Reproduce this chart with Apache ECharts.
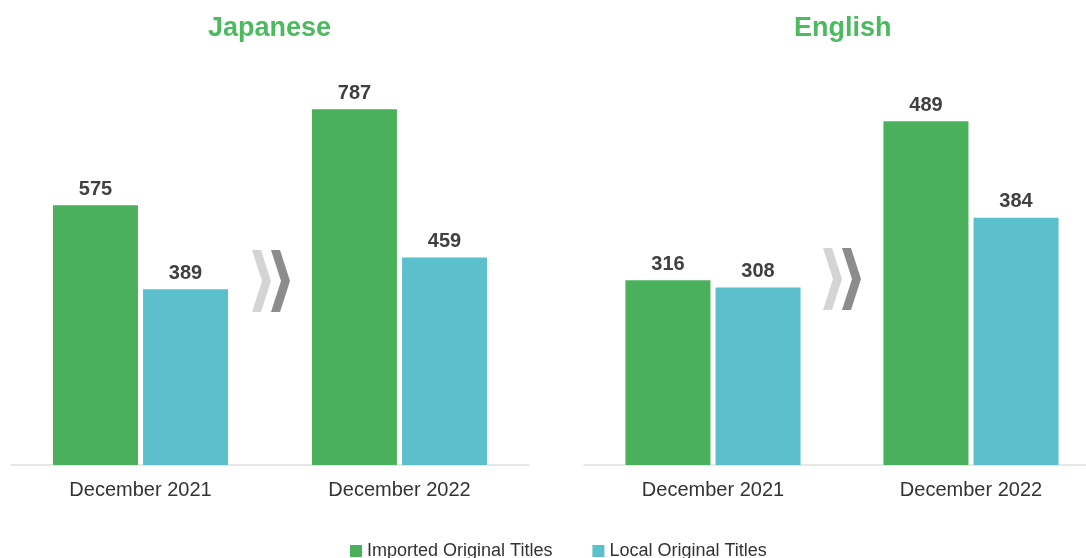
<!DOCTYPE html>
<html>
<head>
<meta charset="utf-8">
<script src="https://cdn.jsdelivr.net/npm/echarts@6/dist/echarts.min.js"></script>
<style>
  html, body { margin: 0; padding: 0; background: #ffffff; overflow: hidden; }
  /* the English panel runs slightly past the right edge of the page */
  #chart { width: 1100px; height: 558px; }
</style>
</head>
<body>
<div id="chart"></div>
<script>
// Title counts per language, two snapshot months
const categories = ['December 2021', 'December 2022'];
const panelTitles = ['Japanese', 'English'];
const seriesNames = ['Imported Original Titles', 'Local Original Titles'];
const japaneseImported = [575, 787];
const japaneseLocal = [389, 459];
const englishImported = [316, 489];
const englishLocal = [308, 384];

const GREEN = '#4ab05c';
const CYAN = '#5bbfcc';
const TITLE_GREEN = '#4cba5e';
const FONT = '"Liberation Sans", Arial, sans-serif';

const chart = echarts.init(document.getElementById('chart'), null, { renderer: 'canvas' });

function barSeries(name, data, idx, color) {
  return {
    name: name,
    type: 'bar',
    xAxisIndex: idx,
    yAxisIndex: idx,
    data: data,
    barWidth: 85,
    barGap: '6%',
    itemStyle: { color: color },
    label: {
      show: true,
      position: 'top',
      distance: 6,
      color: '#404040',
      fontFamily: FONT,
      fontWeight: 'bold',
      fontSize: 20
    }
  };
}

function catAxis(idx) {
  return {
    type: 'category',
    gridIndex: idx,
    data: categories,
    axisTick: { show: false },
    axisLine: { show: true, lineStyle: { color: '#e0e0e0', width: 1.5 } },
    axisLabel: { color: '#333333', fontFamily: FONT, fontSize: 20, margin: 15 }
  };
}

// Two-stroke chevron (light then dark) sitting between the month groups
function chevrons(x, y) {
  const shape = (x0) => [[x0, y], [x0 + 9, y], [x0 + 19, y + 31], [x0 + 9, y + 62], [x0, y + 62], [x0 + 10, y + 31]];
  return [
    { type: 'polygon', shape: { points: shape(x) }, style: { fill: '#d4d4d4' }, z: 10 },
    { type: 'polygon', shape: { points: shape(x + 19) }, style: { fill: '#8c8c8c' }, z: 10 }
  ];
}

const option = {
  backgroundColor: '#ffffff',
  animation: false,
  title: [
    { text: panelTitles[0], left: 203, top: 10,
      textStyle: { color: TITLE_GREEN, fontFamily: FONT, fontWeight: 'bold', fontSize: 27 } },
    { text: panelTitles[1], left: 789, top: 10,
      textStyle: { color: TITLE_GREEN, fontFamily: FONT, fontWeight: 'bold', fontSize: 27 } }
  ],
  legend: {
    data: seriesNames,
    left: 345,
    top: 537,
    itemWidth: 12,
    itemHeight: 12,
    itemGap: 40,
    icon: 'rect',
    textStyle: { color: '#333333', fontFamily: FONT, fontSize: 18 }
  },
  color: [GREEN, CYAN],
  grid: [
    { left: 11, width: 518, top: 56, bottom: 93 },
    { left: 584, width: 517, top: 56, bottom: 93 }
  ],
  xAxis: [catAxis(0), catAxis(1)],
  yAxis: [
    { type: 'value', gridIndex: 0, min: 0, max: 905, show: false, splitLine: { show: false } },
    { type: 'value', gridIndex: 1, min: 115, max: 560, show: false, splitLine: { show: false } }
  ],
  series: [
    barSeries(seriesNames[0], japaneseImported, 0, GREEN),
    barSeries(seriesNames[1], japaneseLocal, 0, CYAN),
    barSeries(seriesNames[0], englishImported, 1, GREEN),
    barSeries(seriesNames[1], englishLocal, 1, CYAN)
  ],
  graphic: chevrons(252, 250).concat(chevrons(823, 248))
};

chart.setOption(option);
</script>
</body>
</html>
